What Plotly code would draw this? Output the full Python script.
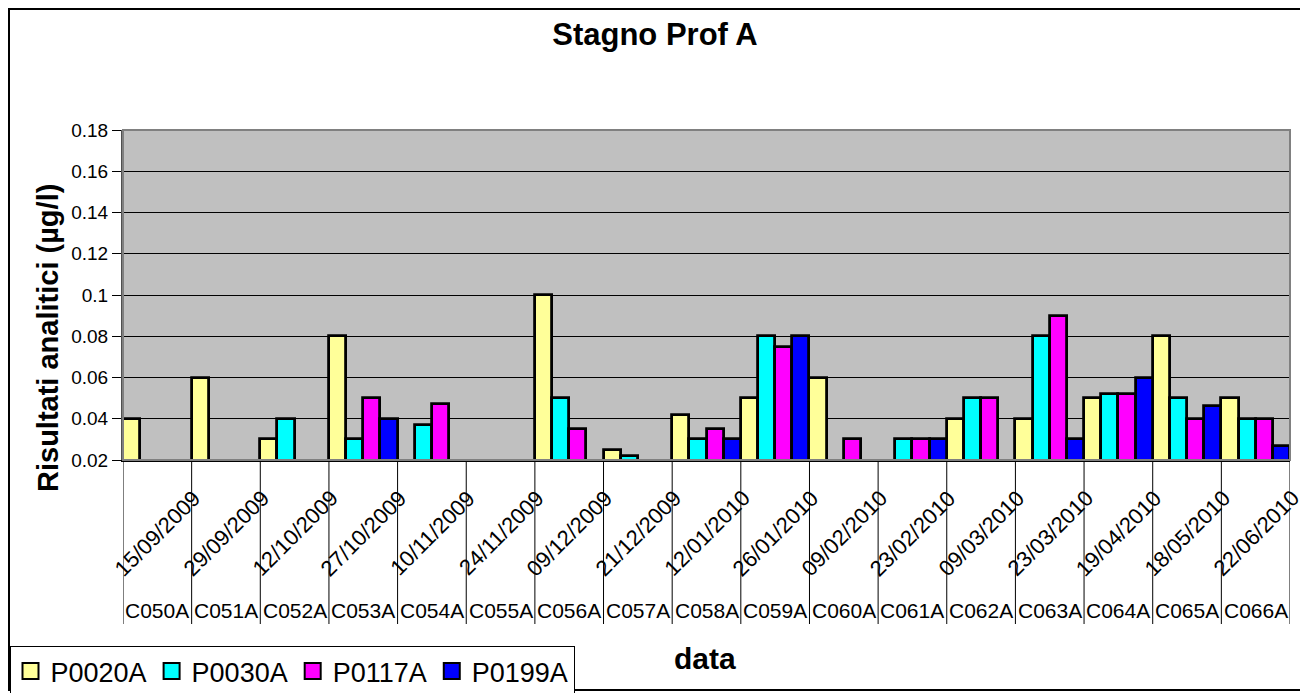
import plotly.graph_objects as go

# Data
codes = ['C050A', 'C051A', 'C052A', 'C053A', 'C054A', 'C055A', 'C056A', 'C057A', 'C058A',
         'C059A', 'C060A', 'C061A', 'C062A', 'C063A', 'C064A', 'C065A', 'C066A']
dates = ['15/09/2009', '29/09/2009', '12/10/2009', '27/10/2009', '10/11/2009', '24/11/2009',
         '09/12/2009', '21/12/2009', '12/01/2010', '26/01/2010', '09/02/2010', '23/02/2010',
         '09/03/2010', '23/03/2010', '19/04/2010', '18/05/2010', '22/06/2010']

p0020a = [0.04, 0.06, 0.03, 0.08, None, None, 0.10, 0.025, 0.042, 0.05, 0.06, None, 0.04, 0.04, 0.05, 0.08, 0.05]
p0030a = [None, None, 0.04, 0.03, 0.037, None, 0.05, 0.022, 0.03, 0.08, None, 0.03, 0.05, 0.08, 0.052, 0.05, 0.04]
p0117a = [None, None, None, 0.05, 0.047, None, 0.035, None, 0.035, 0.075, 0.03, 0.03, 0.05, 0.09, 0.052, 0.04, 0.04]
p0199a = [None, None, None, 0.04, None, None, None, None, 0.03, 0.08, None, 0.03, None, 0.03, 0.06, 0.046, 0.027]

series_names = ['P0020A', 'P0030A', 'P0117A', 'P0199A']
series_values = [p0020a, p0030a, p0117a, p0199a]
series_colors = ['#FFFF99', '#00FFFF', '#FF00FF', '#0000FF']

ytick_vals = [0.02, 0.04, 0.06, 0.08, 0.10, 0.12, 0.14, 0.16, 0.18]
ytick_text = ['0.02', '0.04', '0.06', '0.08', '0.1', '0.12', '0.14', '0.16', '0.18']

# page body has an 8px margin, so the figure is laid out in page pixels minus 8
OFF = 8
W, H = 1300, 685
L, T = 123 - OFF, 130 - OFF
R = W - (1290 - OFF)
B = H - (460 - OFF)
PW, PH = W - L - R, H - T - B
FONT = 'Liberation Sans, Arial, sans-serif'


def px_x(px):
    return (px - OFF - L) / PW


def px_y(py):
    return (H - B - (py - OFF)) / PH


fig = go.Figure()
for name, vals, col in zip(series_names, series_values, series_colors):
    fig.add_trace(go.Bar(x=codes, y=vals, name=name, showlegend=False,
                         marker=dict(color=col, line=dict(color='black', width=2.8))))
# legend entries with larger square swatches
for name, col in zip(series_names, series_colors):
    fig.add_trace(go.Scatter(x=[None], y=[None], mode='markers', name=name,
                             marker=dict(symbol='square', size=16, color=col,
                                         line=dict(color='black', width=2))))

annotations = []
# date labels (rotated) and sample codes under each category
for c, d in zip(codes, dates):
    annotations.append(dict(x=c, y=0, xref='x', yref='paper', text=d, showarrow=False,
                            xanchor='center', yanchor='middle', textangle=-45, yshift=-73,
                            font=dict(size=22, color='black')))
    annotations.append(dict(x=c, y=0, xref='x', yref='paper', text=c, showarrow=False,
                            xanchor='center', yanchor='middle', yshift=-150,
                            font=dict(size=21, color='black')))
annotations.append(dict(x=px_x(48), y=px_y(338), xref='paper', yref='paper',
                        xanchor='center', yanchor='middle',
                        text='<b>Risultati analitici (µg/l)</b>', textangle=-90, showarrow=False,
                        font=dict(size=29, color='black')))
annotations.append(dict(x=px_x(705), y=px_y(658), xref='paper', yref='paper',
                        xanchor='center', yanchor='middle',
                        text='<b>data</b>', showarrow=False, font=dict(size=30, color='black')))

shapes = []
# category separators extending below the axis
for i in range(len(codes) + 1):
    shapes.append(dict(type='line', xref='x', yref='paper', x0=i - 0.5, x1=i - 0.5,
                       y0=0, y1=px_y(624), line=dict(color='black', width=1)))
# plot area border and chart border
shapes.append(dict(type='rect', xref='paper', yref='paper', x0=0, x1=1, y0=0, y1=1,
                   line=dict(color='#808080', width=2)))
shapes.append(dict(type='rect', xref='paper', yref='paper', x0=px_x(OFF + 1), x1=px_x(1305),
                   y0=px_y(690), y1=px_y(OFF + 1), line=dict(color='black', width=2)))

fig.update_layout(
    width=W, height=H,
    margin=dict(l=L, r=R, t=T, b=B, autoexpand=False),
    paper_bgcolor='white', plot_bgcolor='#C0C0C0',
    font=dict(family=FONT, color='black'),
    title=dict(text='<b>Stagno Prof A</b>', x=(655 - OFF) / W, xanchor='center',
               y=1 - (34 - OFF) / H, yanchor='middle', font=dict(size=31)),
    barmode='group', bargap=0, bargroupgap=0,
    xaxis=dict(type='category', showticklabels=False, ticks='', showgrid=False,
               showline=True, linecolor='black', linewidth=2, range=[-0.5, len(codes) - 0.5]),
    yaxis=dict(range=[0.02, 0.18], tickvals=ytick_vals, ticktext=ytick_text,
               ticks='outside', ticklen=9, tickcolor='black',
               tickfont=dict(size=19), showgrid=True, gridcolor='black', gridwidth=1,
               showline=True, linecolor='#505050', linewidth=2, zeroline=False),
    legend=dict(orientation='h', xref='container', yref='container',
                x=1.5 / W, xanchor='left', y=1 - (646 - OFF) / H, yanchor='top',
                bgcolor='white', bordercolor='black', borderwidth=1,
                font=dict(size=27), itemsizing='trace', tracegroupgap=0),
    annotations=annotations,
    shapes=shapes,
)

fig.write_html('out.html')
